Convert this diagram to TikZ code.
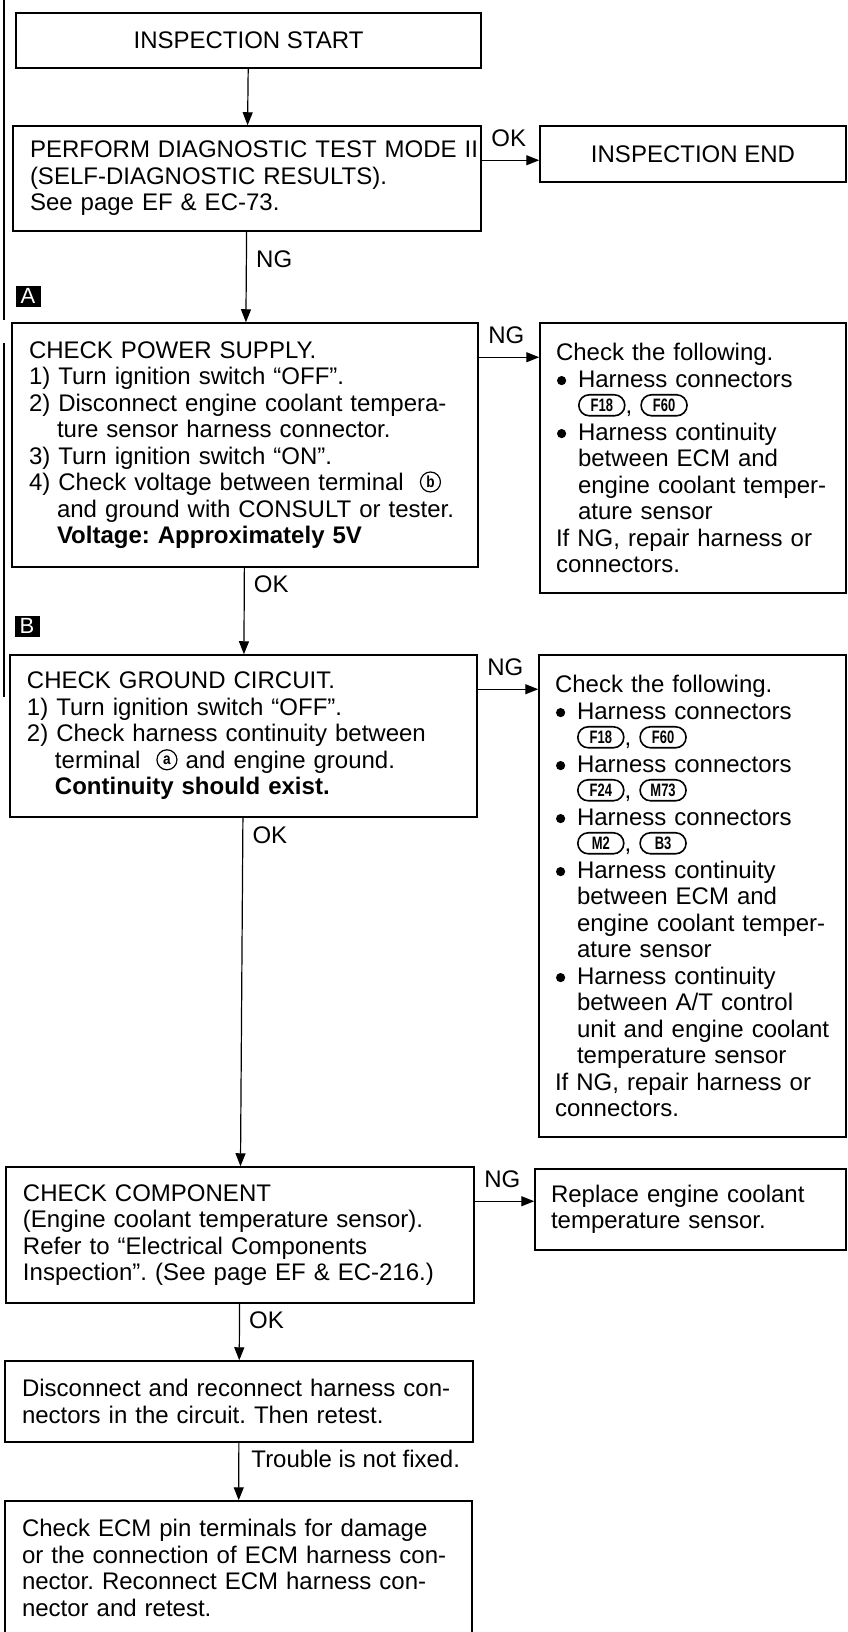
\documentclass[tikz,border=0pt]{standalone}
\usepackage{fontspec}
\setmainfont{Liberation Sans}
\usetikzlibrary{arrows.meta,calc,shapes.misc,positioning}
\frenchspacing

\newcommand{\flowfont}{\fontsize{24}{26.5}\selectfont}
\newcommand{\contline}{\hspace*{28pt}}
\newcommand{\bul}{\makebox[22pt][l]{\hspace{1pt}\tikz[baseline=-6.5pt]\fill (4.6pt,0pt) circle (4.6pt);}}
\newcommand{\contbul}{\hspace*{22pt}}
\newcommand{\conn}[1]{\tikz[baseline={([yshift=3pt]c.south)}]\node[rounded rectangle,draw,line width=1.6pt,minimum width=46pt,minimum height=21pt,inner sep=0pt,font=\bfseries\fontsize{18}{18}\selectfont] (c) {\scalebox{0.72}[1]{#1}};}
\newcommand{\term}[1]{\tikz[baseline={([yshift=2pt]t.south)}]\node[circle,draw,line width=1.2pt,minimum size=20pt,inner sep=0pt,font=\bfseries\fontsize{16}{16}\selectfont] (t) {\scalebox{0.85}[1]{#1}};}

\begin{document}
\begin{tikzpicture}[x=1pt,y=-1pt,
  box/.style={draw,line width=1.5pt,inner sep=0pt,font=\flowfont},
  listbox/.style={box,align=left,inner xsep=17pt},
  secbox/.style={fill=black,text=white,minimum width=25pt,minimum height=21pt,inner sep=0pt,font=\fontsize{22}{22}\selectfont},
  arr/.style={line width=1.2pt,-{Triangle[length=13pt,width=10pt]}},
  lbl/.style={anchor=base west,inner sep=0pt,font=\flowfont,xshift=9pt}]

\clip (0,0) rectangle (847,1632);
\fill[white] (0,0) rectangle (847,1632);

% left edge of the page frame
\draw[line width=1.2pt] (4,0) -- (4,320) (4,343) -- (4,697);

\node[box,minimum width=465pt,minimum height=55pt] (start) at (248.5,40.5) {INSPECTION START};
\node[listbox,text width=434pt,minimum height=105pt] (perform) at (247,178.5)
  {\mbox{PERFORM DIAGNOSTIC TEST MODE II}\\(SELF-DIAGNOSTIC RESULTS).\\See page EF \& EC-73.};
\node[box,minimum width=306pt,minimum height=56pt] (end) at (693,154) {INSPECTION END};

\node[secbox] (secA) at (28,296) {A};
\node[listbox,text width=432pt,minimum height=244pt] (power) at (245,445)
  {CHECK POWER SUPPLY.\\
   1) Turn ignition switch ``OFF''.\\
   2) Disconnect engine coolant tempera-\\
   \contline ture sensor harness connector.\\
   3) Turn ignition switch ``ON''.\\
   4) Check voltage between terminal \ \term{b}\\
   \contline and ground with CONSULT or tester.\\
   \contline\textbf{Voltage: Approximately 5V}};
\node[listbox,inner xsep=16pt,text width=274pt,minimum height=270pt] (right1) at (693,458)
  {Check the following.\\
   \bul Harness connectors\\
   \contbul\conn{F18}, \conn{F60}\\
   \bul Harness continuity\\
   \contbul between ECM and\\
   \contbul engine coolant temper-\\
   \contbul ature sensor\\
   If NG, repair harness or\\
   connectors.};

\node[secbox] (secB) at (27,626) {B};
\node[listbox,text width=433pt,minimum height=162pt] (ground) at (243.5,736)
  {CHECK GROUND CIRCUIT.\\
   1) Turn ignition switch ``OFF''.\\
   2) Check harness continuity between\\
   \contline terminal \ \term{a} and engine ground.\\
   \contline\textbf{Continuity should exist.}};
\node[listbox,inner xsep=16pt,text width=275pt,minimum height=482pt] (right2) at (692.5,896)
  {Check the following.\\
   \bul Harness connectors\\
   \contbul\conn{F18}, \conn{F60}\\
   \bul Harness connectors\\
   \contbul\conn{F24}, \conn{M73}\\
   \bul Harness connectors\\
   \contbul\conn{M2}, \conn{B3}\\
   \bul Harness continuity\\
   \contbul between ECM and\\
   \contbul engine coolant temper-\\
   \contbul ature sensor\\
   \bul Harness continuity\\
   \contbul between A/T control\\
   \contbul unit and engine coolant\\
   \contbul temperature sensor\\
   If NG, repair harness or\\
   connectors.};

\node[listbox,text width=434pt,minimum height=136pt] (component) at (240,1235)
  {CHECK COMPONENT\\
   (Engine coolant temperature sensor).\\
   Refer to ``Electrical Components\\
   Inspection''. (See page EF \& EC-216.)};
\node[listbox,inner xsep=16pt,text width=279pt,minimum height=81pt] (replace) at (690.5,1209.5)
  {Replace engine coolant\\temperature sensor.};

\node[listbox,text width=434pt,minimum height=81pt] (disconnect) at (239,1401.5)
  {Disconnect and reconnect harness con-\\nectors in the circuit. Then retest.};
\node[listbox,text width=433pt,minimum height=134pt] (last) at (238.5,1568)
  {Check ECM pin terminals for damage\\
   or the connection of ECM harness con-\\
   nector. Reconnect ECM harness con-\\
   nector and retest.};

\draw[arr] (start) -- (perform);
\draw[arr] ([yshift=-35pt]perform.north east) coordinate (okA) -- (okA -| end.west) node[lbl,pos=0,yshift=14pt] {OK};
\draw[arr] (perform) -- (power) node[lbl,pos=0,yshift=-36pt] {NG};
\draw[arr] ([yshift=-35pt]power.north east) coordinate (ngA) -- (ngA -| right1.west) node[lbl,pos=0,yshift=14pt] {NG};
\draw[arr] (power) -- (ground) node[lbl,pos=0,yshift=-25pt] {OK};
\draw[arr] ([yshift=-35pt]ground.north east) coordinate (ngB) -- (ngB -| right2.west) node[lbl,pos=0,yshift=14pt] {NG};
\draw[arr] (ground) -- (component) node[lbl,pos=0,yshift=-26pt] {OK};
\draw[arr] ([yshift=-35pt]component.north east) coordinate (ngC) -- (ngC -| replace.west) node[lbl,pos=0,yshift=14pt] {NG};
\draw[arr] (component) -- (disconnect) node[lbl,pos=0,yshift=-25pt] {OK};
\draw[arr] (disconnect) -- (last) node[lbl,pos=0,yshift=-25pt,xshift=3pt] {Trouble is not fixed.};

\end{tikzpicture}
\end{document}
